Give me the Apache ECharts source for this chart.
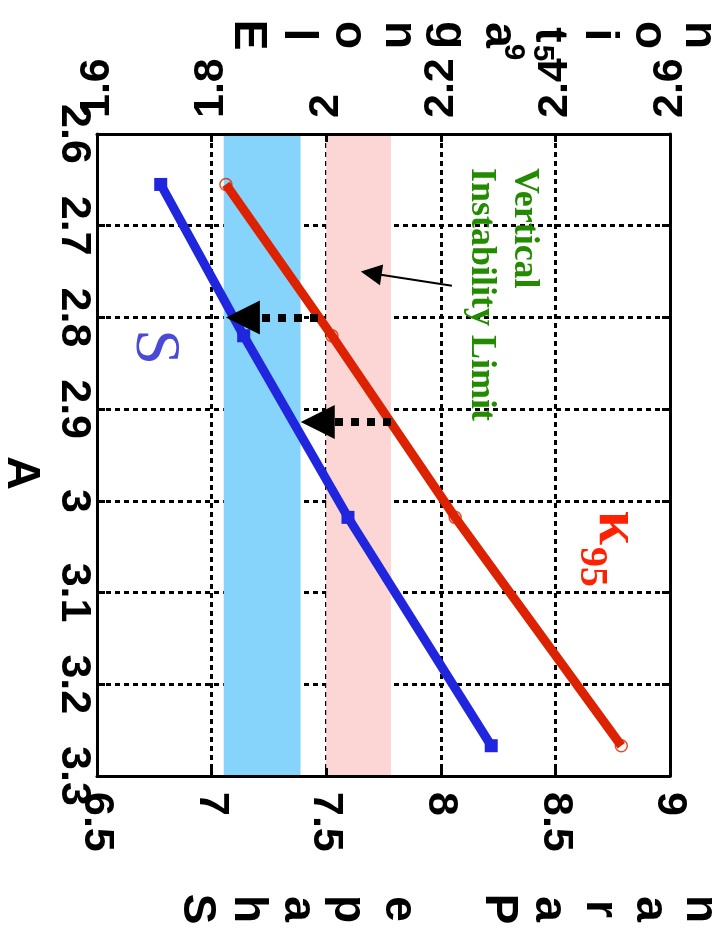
<!DOCTYPE html>
<html><head><meta charset="utf-8">
<script src="https://cdn.jsdelivr.net/npm/echarts@6/dist/echarts.min.js"></script>
<style>html,body{margin:0;padding:0;background:#fff}#c{width:716px;height:931px}</style>
</head><body><div id="c"></div>
<script>
// ---- data ----
const aValues   = [2.655, 2.82, 3.018, 3.267];   // A (vertical axis)
const kappa95   = [1.825, 2.01, 2.225, 2.515];   // elongation (top axis)
const shapeS    = [6.778, 7.14, 7.595, 8.22];    // shape parameter (bottom axis)
const elongRange = [1.6, 2.6, 0.2];
const shapeRange = [6.5, 9, 0.5];
const aRange     = [2.6, 3.3, 0.1];
const pinkBand = [2.0, 2.113];     // elongation units
const blueBand = [7.053, 7.388];   // shape units
const dottedArrowFrom = [[1.9857, 2.8], [2.1131, 2.914]];
const dottedArrowTo   = [[1.8546, 2.8], [1.9852, 2.914]];
const thinArrowFrom = [2.2194, 2.7654];
const thinArrowTo   = [2.0785, 2.7518];
const topNameLetters = ['E','l','o','n','g','a','t','i','o','n'];
const bottomNameLetters = ['S','h','a','p','e','','P','a','r','a','n'];

const FONT = '"Liberation Sans", Arial, sans-serif';
const SERIF = '"Liberation Serif", "Times New Roman", serif';
const chart = echarts.init(document.getElementById('c'));
const gridStyle = {color:'#000', width:3, type:[5,4]};

function xAxisBase(pos, r, split) {
  return {
    type:'value', position:pos, min:r[0], max:r[1], interval:r[2], z:1,
    axisLine:{show:true, onZero:false, lineStyle:{color:'#000', width:3}},
    axisTick:{show:true, inside:true, length:8, lineStyle:{color:'#000', width:3}},
    axisLabel:{rotate:-90, margin:16, fontSize:43, fontWeight:'bold', fontFamily:FONT, color:'#000', padding:[0,0,12,0]},
    splitLine:{show:split, lineStyle:gridStyle}
  };
}
const texts = [];
topNameLetters.forEach((ch,k)=>{
  texts.push({type:'text', x:248 + 50.1*k, y:35, rotation:-Math.PI/2,
    style:{text:ch, font:'bold 46px '+FONT, fill:'#000', align:'center', verticalAlign:'middle'}});
});
bottomNameLetters.forEach((ch,k)=>{
  if (!ch) return;
  texts.push({type:'text', x:197 + 50.3*k, y:909, rotation:-Math.PI/2,
    style:{text:ch, font:'bold 46px '+FONT, fill:'#000', align:'center', verticalAlign:'middle'}});
});
texts.push({type:'text', x:513, y:52, rotation:-Math.PI/2, style:{text:'9', font:'bold 30px '+FONT, fill:'#000', align:'center', verticalAlign:'middle'}});
texts.push({type:'text', x:542, y:53, rotation:-Math.PI/2, style:{text:'5', font:'bold 30px '+FONT, fill:'#000', align:'center', verticalAlign:'middle'}});
texts.push({type:'text', x:21, y:473, rotation:-Math.PI/2, style:{text:'A', font:'bold 47px '+FONT, fill:'#000', align:'center', verticalAlign:'middle'}});
texts.push({type:'text', x:524, y:168, rotation:-Math.PI/2, z:10, style:{text:'Vertical', font:'bold 36px '+SERIF, fill:'#228b00', align:'left', verticalAlign:'middle'}});
texts.push({type:'text', x:481, y:168, rotation:-Math.PI/2, z:10, style:{text:'Instability Limit', font:'bold 36px '+SERIF, fill:'#228b00', align:'left', verticalAlign:'middle'}});
texts.push({type:'text', x:616, y:528, rotation:-Math.PI/2, z:10, style:{text:'κ', font:'bold 62px '+SERIF, fill:'#ff2200', align:'center', verticalAlign:'middle'}});
texts.push({type:'text', x:591, y:567, rotation:-Math.PI/2, z:10, style:{text:'95', font:'bold 40px '+SERIF, fill:'#ff2200', align:'center', verticalAlign:'middle'}});
texts.push({type:'text', x:154, y:347, rotation:-Math.PI/2, z:10, style:{text:'S', font:'64px '+SERIF, fill:'#4a4ad6', align:'center', verticalAlign:'middle'}});

const dotted = {color:'#000', width:8, type:[8,8], cap:'butt'};
const arrowData = dottedArrowFrom.map((f,i)=>[
  {coord:f, symbol:'none', lineStyle:dotted},
  {coord:dottedArrowTo[i], symbol:'triangle', symbolSize:34}
]);
arrowData.push([
  {coord:thinArrowFrom, symbol:'none', lineStyle:{color:'#000', width:2, type:'solid'}},
  {coord:thinArrowTo, symbol:'triangle', symbolSize:21}
]);

chart.setOption({
  animation:false,
  backgroundColor:'#fff',
  grid:{left:97, right:46, top:134, bottom:155, containLabel:false, outerBoundsMode:'none'},
  xAxis:[xAxisBase('top', elongRange, true), xAxisBase('bottom', shapeRange, false)],
  yAxis:[
    {type:'value', position:'left', inverse:true, min:aRange[0], max:aRange[1], interval:aRange[2], z:1,
     axisLine:{show:true, onZero:false, lineStyle:{color:'#000', width:3}},
     axisTick:{show:true, inside:true, length:8, lineStyle:{color:'#000', width:3}},
     axisLabel:{rotate:-90, margin:2, fontSize:43, fontWeight:'bold', fontFamily:FONT, color:'#000'},
     splitLine:{show:true, lineStyle:gridStyle}},
    {type:'value', position:'right', inverse:true, min:aRange[0], max:aRange[1], interval:aRange[2], z:1,
     axisLine:{show:true, onZero:false, lineStyle:{color:'#000', width:3}},
     axisTick:{show:true, inside:true, length:8, lineStyle:{color:'#000', width:3}},
     axisLabel:{show:false}, splitLine:{show:false}}
  ],
  series:[
    {type:'line', xAxisIndex:0, yAxisIndex:0, data:[], z:0, silent:true,
     markArea:{silent:true, itemStyle:{color:'#fcd5d5'}, data:[[{xAxis:pinkBand[0]},{xAxis:pinkBand[1]}]]}},
    {type:'line', xAxisIndex:1, yAxisIndex:0, data:[], z:0, silent:true,
     markArea:{silent:true, itemStyle:{color:'#86d4fb'}, data:[[{xAxis:blueBand[0]},{xAxis:blueBand[1]}]]}},
    {type:'scatter', xAxisIndex:0, yAxisIndex:0, z:2, symbol:'circle', symbolSize:12,
     itemStyle:{color:'rgba(255,255,255,0)', borderColor:'#dc2200', borderWidth:1.5},
     data:kappa95.map((v,i)=>[v, aValues[i]])},
    {type:'line', xAxisIndex:0, yAxisIndex:0, z:3, showSymbol:false, silent:true,
     lineStyle:{color:'#dc2200', width:9}, data:kappa95.map((v,i)=>[v, aValues[i]])},
    {type:'line', xAxisIndex:1, yAxisIndex:0, z:3, showSymbol:true, symbol:'rect', symbolSize:13, silent:true,
     itemStyle:{color:'#1f26dd'}, lineStyle:{color:'#1f26dd', width:9}, data:shapeS.map((v,i)=>[v, aValues[i]])},
    {type:'line', xAxisIndex:0, yAxisIndex:0, data:[], z:5, silent:true,
     markLine:{silent:true, animation:false, label:{show:false}, symbol:['none','triangle'],
       itemStyle:{color:'#000'}, lineStyle:{color:'#000'}, emphasis:{disabled:true}, data:arrowData}}
  ],
  graphic:texts
});
</script></body></html>
